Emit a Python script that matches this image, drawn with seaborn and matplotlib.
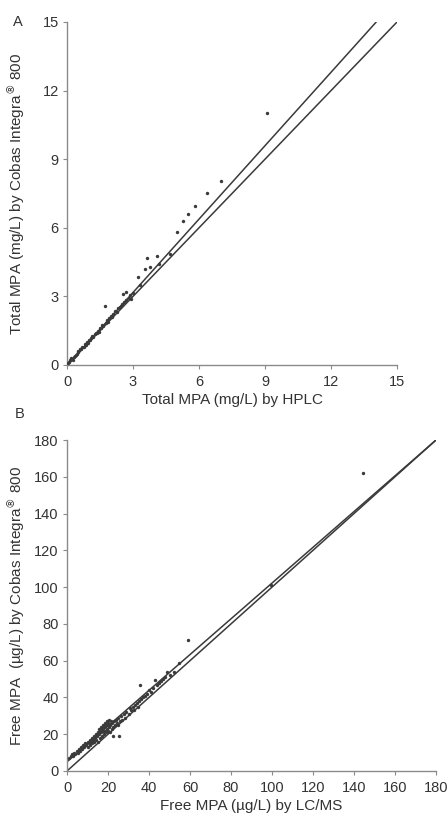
import matplotlib
matplotlib.use("Agg")
import matplotlib.pyplot as plt
import seaborn as sns
import pandas as pd

sns.set_theme(style="white")
plt.rcParams["font.family"] = ["Liberation Sans", "DejaVu Sans"]

# Panel A: total MPA (mg/L), HPLC vs Cobas Integra 800
total_hplc = [0.05, 0.1, 0.12, 0.18, 0.2, 0.25, 0.3, 0.35, 0.4, 0.45, 0.5, 0.52,
              0.6, 0.65, 0.7, 0.75, 0.8, 0.85, 0.9, 0.95, 1.0, 1.05, 1.1, 1.15,
              1.2, 1.25, 1.3, 1.35, 1.4, 1.45, 1.5, 1.55, 1.6, 1.65, 1.73, 1.75,
              1.8, 1.85, 1.9, 2.0, 2.05, 2.1, 2.2, 2.25, 2.3, 2.4, 2.45, 2.5,
              2.56, 2.6, 2.67, 2.7, 2.8, 2.85, 2.9, 3.0, 3.21, 3.3, 3.55, 3.65,
              3.77, 4.08, 4.2, 4.68, 5.0, 5.26, 5.48, 5.82, 6.38, 6.98, 9.08]
total_cobas = [0.1, 0.15, 0.2, 0.25, 0.3, 0.22, 0.35, 0.4, 0.45, 0.5, 0.55, 0.62,
               0.7, 0.68, 0.8, 0.78, 0.9, 0.88, 1.0, 0.98, 1.1, 1.08, 1.2, 1.25,
               1.22, 1.35, 1.38, 1.4, 1.5, 1.45, 1.62, 1.6, 1.75, 1.7, 2.58, 1.85,
               1.95, 1.9, 2.05, 2.15, 2.1, 2.25, 2.35, 2.3, 2.5, 2.55, 2.6, 2.65,
               3.1, 2.75, 3.2, 2.85, 2.95, 3.05, 2.9, 3.15, 3.86, 3.5, 4.22, 4.69,
               4.3, 4.78, 4.4, 4.85, 5.8, 6.3, 6.59, 6.97, 7.54, 8.06, 11.0]
total_slope = 1.07
total_intercept = -0.04
total_ticks = [0, 3, 6, 9, 12, 15]

# Panel B: free MPA (ug/L), LC/MS vs Cobas Integra 800
free_lcms = [1, 2, 2.5, 3, 3.5, 4, 5, 5.5, 6, 6.5, 7, 7.5, 8, 8.5, 9, 9.5, 10, 10,
             10.5, 11, 11, 11.5, 12, 12, 12.5, 13, 13, 13.5, 14, 14, 14.5, 15, 15,
             15.5, 15.5, 16, 16, 16.5, 16.5, 17, 17, 17.5, 17.5, 18, 18, 18.5, 18.5,
             19, 19, 19.5, 19.5, 20, 20, 20.5, 20.5, 21, 21, 21.5, 22, 22, 22.5, 23,
             22.6, 25.5, 23.5, 24, 24.5, 25, 25, 26, 26.5, 27, 28, 28.5, 29, 30,
             30.5, 31, 32, 32.5, 33, 34, 34.5, 35, 35.6, 36, 37, 38, 39, 40, 41, 42,
             43, 44, 45, 46, 47, 48, 49, 50, 52, 54.6, 59.2, 99.5, 144.4]
free_cobas = [7, 8, 9, 8, 10, 9, 11, 10, 12, 11, 13, 12, 14, 13, 15, 14, 16, 13,
              15, 17, 14, 16, 18, 15, 17, 19, 16, 18, 20, 17, 19, 21, 16,
              20, 23, 22, 18, 21, 24, 23, 19, 22, 25, 24, 20, 26, 22,
              25, 21, 27, 23, 26, 22, 28, 24, 25, 21, 27, 26, 23, 24, 27,
              19, 19, 25, 28, 26, 29, 25, 27, 30, 28, 31, 29, 32, 31,
              34, 33, 35, 33, 36, 37, 35, 38, 46.8, 39, 40, 41, 42, 44, 43, 45,
              49.5, 47, 48, 49, 50, 51, 54, 52, 54, 58.7, 71.2, 101, 162]
free_slope = 0.972
free_intercept = 5.0
free_ticks = [0, 20, 40, 60, 80, 100, 120, 140, 160, 180]

ink = "#3a3a3a"
axis_grey = "#8a8a8a"
text_grey = "#333333"

fig = plt.figure(figsize=(4.48, 8.16), dpi=100)
ax_a = fig.add_axes([67 / 448, 1 - 365 / 816, 330 / 448, 343 / 816])
ax_b = fig.add_axes([67 / 448, 1 - 771 / 816, 369 / 448, 331 / 816])


def draw_panel(ax, x, y, slope, intercept, ticks, xlabel, ylabel):
    lim = ticks[-1]
    pts = pd.DataFrame({"x": x, "y": y})
    sns.scatterplot(data=pts, x="x", y="y", ax=ax, color=ink, s=6,
                    linewidth=0, legend=False, zorder=3)
    # line of identity
    ident = pd.DataFrame({"x": [0, lim], "y": [0, lim]})
    sns.lineplot(data=ident, x="x", y="y", ax=ax, color=ink, lw=1.1,
                 estimator=None, zorder=2)
    # fitted regression line, clipped to the axis limits
    x_end = min(lim, (lim - intercept) / slope)
    x_start = max(0.0, -intercept / slope)
    reg = pd.DataFrame({"x": [x_start, x_end],
                        "y": [slope * x_start + intercept, slope * x_end + intercept]})
    sns.lineplot(data=reg, x="x", y="y", ax=ax, color=ink, lw=1.1,
                 estimator=None, zorder=2)

    ax.set_xlim(0, lim)
    ax.set_ylim(0, lim)
    ax.set_xticks(ticks)
    ax.set_yticks(ticks)
    ax.set_xlabel(xlabel, fontsize=11, color=text_grey, labelpad=3)
    ax.set_ylabel(ylabel, fontsize=11, color=text_grey)
    ax.tick_params(axis="both", which="major", direction="out", length=3,
                   width=0.8, color=axis_grey, labelsize=10.5,
                   labelcolor=text_grey, left=True, bottom=True)
    ax.tick_params(axis="x", pad=4)
    ax.tick_params(axis="y", pad=3)
    sns.despine(ax=ax)
    for side in ("left", "bottom"):
        ax.spines[side].set_color(axis_grey)
        ax.spines[side].set_linewidth(1.0)
    ax.set_facecolor("white")


draw_panel(ax_a, total_hplc, total_cobas, total_slope, total_intercept,
           total_ticks, "Total MPA (mg/L) by HPLC",
           "Total MPA (mg/L) by Cobas Integra$^{\\circledR}$ 800")
draw_panel(ax_b, free_lcms, free_cobas, free_slope, free_intercept,
           free_ticks, "Free MPA (µg/L) by LC/MS",
           "Free MPA  (µg/L) by Cobas Integra$^{\\circledR}$ 800")

ax_a.yaxis.set_label_coords(-40 / 330, 0.5)
ax_b.yaxis.set_label_coords(-40 / 369, 0.5)

fig.text(18 / 448, 1 - 22 / 816, "A", fontsize=10.5, color=text_grey,
         ha="center", va="center")
fig.text(20 / 448, 1 - 414 / 816, "B", fontsize=10.5, color=text_grey,
         ha="center", va="center")

fig.savefig("out.png", dpi=100, facecolor="white")
